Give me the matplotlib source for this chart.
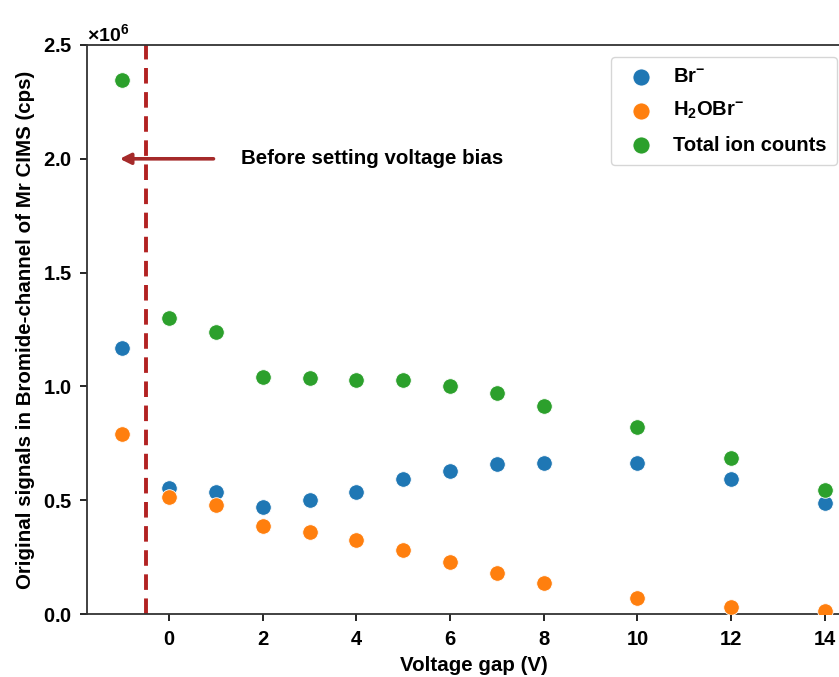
import matplotlib
matplotlib.use("Agg")
import matplotlib.pyplot as plt

plt.rcParams['font.family'] = ['Liberation Sans', 'DejaVu Sans']
plt.rcParams['font.weight'] = 'bold'
plt.rcParams['axes.labelweight'] = 'bold'
plt.rcParams['mathtext.fontset'] = 'custom'
plt.rcParams['mathtext.rm'] = 'Liberation Sans:bold'
plt.rcParams['mathtext.bf'] = 'Liberation Sans:bold'
plt.rcParams['mathtext.it'] = 'Liberation Sans:bold'

voltage = [-1, 0, 1, 2, 3, 4, 5, 6, 7, 8, 10, 12, 14]
br = [1.170, 0.554, 0.536, 0.472, 0.503, 0.538, 0.591, 0.627, 0.660, 0.663, 0.663, 0.593, 0.488]
h2obr = [0.790, 0.513, 0.479, 0.385, 0.362, 0.324, 0.281, 0.227, 0.179, 0.136, 0.070, 0.031, 0.013]
total = [2.346, 1.300, 1.238, 1.040, 1.036, 1.026, 1.027, 1.000, 0.972, 0.914, 0.822, 0.685, 0.545]
scale = 1e6
labels = [r'$\mathregular{Br^{-}}$', r'$\mathregular{H_2OBr^{-}}$', 'Total ion counts']
colors = ['#1f77b4', '#ff7f0e', '#2ca02c']

fig = plt.figure(figsize=(8.39, 6.77), dpi=100)
ax = fig.add_axes([87/839, 63/677, 773/839, 569/677])

for vals, lab, c in zip([br, h2obr, total], labels, colors):
    ax.scatter(voltage, [v * scale for v in vals], s=125, color=c, edgecolor='white',
               linewidth=0.6, label=lab, zorder=3)

ax.axvline(-0.5, color='#b22222', linestyle=(0, (4, 2.2)), linewidth=2.8, zorder=2)
ax.annotate('', xy=(-1.05, 2.0e6), xytext=(0.95, 2.0e6),
            arrowprops=dict(arrowstyle='-|>', color='#a52a2a', lw=2.6,
                            mutation_scale=16, shrinkA=0, shrinkB=0))
ax.text(1.53, 2.0e6, 'Before setting voltage bias', fontsize=14.8, fontweight='bold',
        va='center', ha='left')

ax.set_xlim(-1.75, 14.75)
ax.set_ylim(0, 2.5e6)
ax.set_xticks([0, 2, 4, 6, 8, 10, 12, 14])
ax.set_yticks([0, 0.5e6, 1.0e6, 1.5e6, 2.0e6, 2.5e6])
ax.ticklabel_format(axis='y', style='sci', scilimits=(6, 6), useMathText=True)
ax.yaxis.get_offset_text().set_fontsize(14)
ax.yaxis.get_offset_text().set_fontweight('bold')
ax.tick_params(axis='both', labelsize=14.5, length=5, width=1.2)
ax.tick_params(axis='x', pad=6.5)
ax.tick_params(axis='y', pad=5.5)
for lab in ax.get_xticklabels() + ax.get_yticklabels():
    lab.set_fontweight('bold')
for sp in ax.spines.values():
    sp.set_linewidth(1.3)
    sp.set_color('#333333')

ax.set_xlabel('Voltage gap (V)', fontsize=14.8, fontweight='bold', labelpad=5)
ax.set_ylabel('Original signals in Bromide-channel of Mr CIMS (cps)', fontsize=14.8,
              fontweight='bold', labelpad=6)

leg = ax.legend(loc='upper right', bbox_to_anchor=(837/839, 1 - 57/677),
                bbox_transform=fig.transFigure, borderaxespad=0,
                prop={'weight': 'bold', 'size': 14.5}, handletextpad=0.6,
                borderpad=0.5, labelspacing=0.7, markerscale=1.1)

fig.savefig('out.png', dpi=100)
